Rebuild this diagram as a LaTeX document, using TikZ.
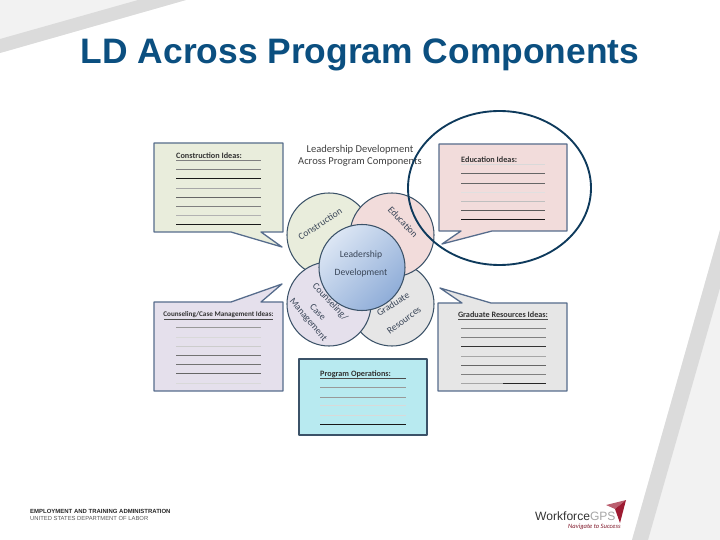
\documentclass[tikz,border=0pt]{standalone}
\usepackage{fontspec}
\setmainfont{Carlito}
\newfontfamily\arialfont{Liberation Sans}
\definecolor{titleblue}{HTML}{0B4F80}
\definecolor{bandgray}{HTML}{DBDBDB}
\definecolor{palegray}{HTML}{F2F2F2}
\definecolor{boxedge}{HTML}{566C8C}
\definecolor{ringedge}{HTML}{3B5268}
\definecolor{ringnavy}{HTML}{0E3A5C}
\definecolor{labelink}{HTML}{3A4658}
\definecolor{constfill}{HTML}{E9EDDC}
\definecolor{edufill}{HTML}{F2DCDB}
\definecolor{counsfill}{HTML}{E5E0EC}
\definecolor{gradfill}{HTML}{E6E6E6}
\definecolor{opsfill}{HTML}{B8EAF0}
\definecolor{gpsred}{HTML}{9E1B32}
\definecolor{hublight}{HTML}{DCE6F4}
\definecolor{hubdark}{HTML}{8FADD8}
\tikzset{
    ideabox/.style={draw=boxedge, line width=1.1pt, line join=round},
    petal/.style={draw=ringedge, line width=0.9pt},
    petaltext/.style={text=labelink, inner sep=0pt, font=\fontsize{8.2}{10}\selectfont},
    boxtitle/.style={text=black!80, font=\fontsize{7}{8}\selectfont\bfseries, inner sep=0pt},
    ruleline/.style={line width=0.8pt},
}

\begin{document}
\begin{tikzpicture}[x=0.03cm, y=-0.03cm]
    \useasboundingbox (0,0) rectangle (720,540);

    % slide background bands
    \fill[palegray] (0,0) -- (186,0) -- (0,53) -- cycle;
    \fill[bandgray] (138,0) -- (186,0) -- (0,53) -- (0,39) -- cycle;
    \fill[palegray] (720,230) -- (632,540) -- (720,540) -- cycle;
    \fill[bandgray] (720,230) -- (632,540) -- (648,540) -- (720,288) -- cycle;

    \node[text=titleblue, font=\arialfont\bfseries\fontsize{30.2}{32}\selectfont] (slidetitle) at (360,55) {LD Across Program Components};

    % callouts
    \draw[ideabox, fill=constfill] (154,143) -- (283,143) -- (283,232) -- (261,232) -- (282,247) -- (231,232) -- (154,232) -- cycle;
    \draw[ideabox, fill=edufill] (439,144) -- (567,144) -- (567,231) -- (492,231) -- (442,244) -- (461,231) -- (439,231) -- cycle;
    \draw[ideabox, fill=counsfill] (154,302) -- (231,302) -- (282,284) -- (261,302) -- (283,302) -- (283,391) -- (154,391) -- cycle;
    \draw[ideabox, fill=gradfill] (438,303) -- (462,303) -- (440,288) -- (491,303) -- (567,303) -- (567,391) -- (438,391) -- cycle;
    \draw[ideabox, draw=ringedge, fill=opsfill] (299,359) rectangle (427,435);

    % writing lines
    \foreach \y/\c in {160/black!50, 169/black!50, 178/black!90, 188/black!35, 197/black!60, 206/black!50, 215/black!30, 224/black!90}
        \draw[ruleline, \c] (176,\y) -- (261,\y);
    \foreach \y/\c in {164/black!15, 173/black!60, 183/black!60, 192/black!12, 201/black!25, 210/black!65, 219/black!90}
        \draw[ruleline, \c] (461,\y) -- (545,\y);
    \foreach \y/\c in {327/black!40, 337/black!15, 346/black!20, 355/black!55, 364/black!55, 373/black!60, 383/black!15}
        \draw[ruleline, \c] (176,\y) -- (261,\y);
    \foreach \y/\c in {378/black!70, 387/black!40, 397/black!40, 405/black!15, 415/black!15, 424/black!90}
        \draw[ruleline, \c] (320,\y) -- (406,\y);
    \foreach \y/\c in {328/black!50, 337/black!50, 346/black!80, 356/black!35, 365/black!60, 374/black!50}
        \draw[ruleline, \c] (461,\y) -- (546,\y);
    \draw[ruleline, black!35] (461,383) -- (503,383);
    \draw[ruleline, black!85] (503,383) -- (546,383);
    \draw[ruleline, black!70] (164,319) -- (273,319);
    \draw[ruleline, black!70] (458,319) -- (548,319);

    % box headings
    \node[boxtitle, anchor=west] (constideas) at (176,156) {Construction Ideas:};
    \node[boxtitle, anchor=west] (eduideas) at (461,160) {Education Ideas:};
    \node[boxtitle, anchor=center, font=\fontsize{6.1}{8}\selectfont\bfseries] (counsideas) at (218.5,315) {Counseling/Case Management Ideas:};
    \node[boxtitle, anchor=center] (gradideas) at (503,315) {Graduate Resources Ideas:};
    \node[boxtitle, anchor=west] (opsideas) at (320,374) {Program Operations:};

    \node[text=black!75, align=center, font=\fontsize{9}{10.3}\selectfont] (bigtitle) at (360,155.5) {Leadership Development\\Across Program Components};

    % circles
    \draw[petal, fill=constfill] (329,235) circle (42);
    \draw[petal, fill=gradfill] (392,304) circle (42);
    \draw[petal, fill=counsfill] (329,304) circle (42);
    \draw[petal, fill=edufill] (392,235) circle (42);
    \draw[petal, top color=hublight, bottom color=hubdark, shading angle=45] (362,267.5) circle (43);

    \node[petaltext, rotate=33] (constlabel) at (320,224) {Construction};
    \node[petaltext, rotate=-47] (edulabel) at (403,222) {Education};
    \node[petaltext] (leadlabel) at (361,255) {Leadership};
    \node[petaltext] (devlabel) at (361,273) {Development};
    \node[petaltext, rotate=-47] (counslabel) at (330,302) {Counseling/};
    \node[petaltext, rotate=-45] (caselabel) at (318,312) {Case};
    \node[petaltext, rotate=-50] (mgmtlabel) at (308,320) {Management};
    \node[petaltext, rotate=32] (gradlabel) at (393,304) {Graduate};
    \node[petaltext, rotate=36] (reslabel) at (404,320) {Resources};

    % highlight ring
    \draw[ringnavy, line width=1.6pt] (499.5,188) ellipse (91.5 and 77);

    % footer
    \node[anchor=west, inner sep=0pt, text=black!85, font=\arialfont\bfseries\fontsize{5.1}{6}\selectfont] (etaline) at (30,511) {EMPLOYMENT AND TRAINING ADMINISTRATION};
    \node[anchor=west, inner sep=0pt, text=black!65, font=\arialfont\fontsize{5}{6}\selectfont] (dolline) at (30,518) {UNITED STATES DEPARTMENT OF LABOR};

    % logo
    \fill[gpsred!70!white] (606,505) -- (626,500) -- (615,509) -- cycle;
    \fill[gpsred] (626,500) -- (620,523) -- (615,509) -- cycle;
    \node[anchor=west, inner sep=0pt, text=black!80, font=\arialfont\fontsize{10.3}{12}\selectfont] (gpsword) at (535,516.5) {Workforce\textcolor{black!35}{GPS}};
    \node[anchor=west, inner sep=0pt, text=gpsred!80!black, font=\fontsize{5.6}{6}\selectfont\itshape] (gpstag) at (568,527) {Navigate to Success};
\end{tikzpicture}
\end{document}
